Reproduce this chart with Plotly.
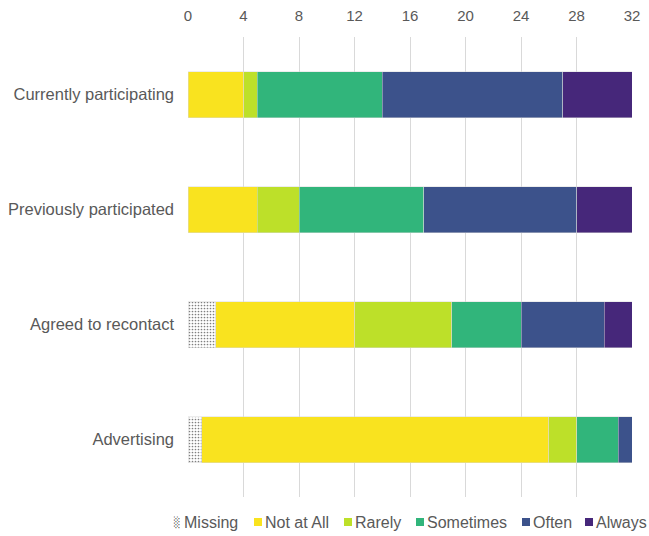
import plotly.graph_objects as go

categories = ["Currently participating", "Previously participated", "Agreed to recontact", "Advertising"]
missing = [0, 0, 2, 1]
not_at_all = [4, 5, 10, 25]
rarely = [1, 3, 7, 2]
sometimes = [9, 9, 5, 3]
often = [13, 11, 6, 1]
always = [5, 4, 2, 0]
x_ticks = [0, 4, 8, 12, 16, 20, 24, 28, 32]

series_names = ["Missing", "Not at All", "Rarely", "Sometimes", "Often", "Always"]
series_values = [missing, not_at_all, rarely, sometimes, often, always]
series_colors = ["#ffffff", "#f9e31f", "#bde029", "#31b57b", "#3c528b", "#46277a"]

# legend layout (screen px of the symbol's left edge)
legend_x = [173, 254, 344, 416, 522, 585]

# plot area on screen: x 188..632, y 37..497
PX_L, PX_W, PX_B, PX_H = 188, 444, 497, 460


def px_x(px):
    return (px - PX_L) / PX_W


def px_y(py):
    return (PX_B - py) / PX_H


font_color = "#595959"
font_family = "Liberation Sans"

fig = go.Figure()

# Stacked horizontal bars
for name, vals, color in zip(series_names, series_values, series_colors):
    if name == "Missing":
        marker = dict(
            color="#ffffff",
            pattern=dict(shape=".", fgcolor="#000000", bgcolor="#ffffff", size=3, solidity=0.25),
            line=dict(color="#d9d9d9", width=0.5),
        )
    else:
        marker = dict(color=color, line=dict(color="rgba(217,217,217,0.8)", width=0.6))
    fig.add_trace(
        go.Bar(
            y=categories,
            x=vals,
            name=name,
            orientation="h",
            marker=marker,
            width=0.4,
            showlegend=False,
        )
    )

# Legend drawn by hand so the spacing stays tight
ly = 522
for name, color, lx in zip(series_names, series_colors, legend_x):
    if name == "Missing":
        fig.add_annotation(
            x=px_x(lx - 1), y=px_y(ly), xref="paper", yref="paper",
            text="░", showarrow=False, xanchor="left", yanchor="middle",
            font=dict(family="DejaVu Sans Mono", size=10, color="#222222"),
        )
    else:
        fig.add_shape(
            type="rect", xref="paper", yref="paper",
            x0=px_x(lx), x1=px_x(lx + 8), y0=px_y(ly + 4), y1=px_y(ly - 4),
            fillcolor=color, line=dict(width=0),
        )
    fig.add_annotation(
        x=px_x(lx + 11), y=px_y(ly), xref="paper", yref="paper",
        text=name, showarrow=False, xanchor="left", yanchor="middle",
        font=dict(family=font_family, size=16, color=font_color),
        xshift=-2,
    )

fig.update_xaxes(
    side="top",
    range=[0, 32],
    tickvals=x_ticks,
    showgrid=True,
    gridcolor="#d9d9d9",
    gridwidth=1,
    zeroline=False,
    automargin=False,
    tickfont=dict(family=font_family, size=15, color=font_color),
    ticklabelstandoff=12,
)

fig.update_yaxes(
    categoryorder="array",
    categoryarray=categories,
    autorange="reversed",
    showgrid=False,
    automargin=False,
    tickfont=dict(family=font_family, size=16.5, color=font_color),
    ticklabelstandoff=13,
)

fig.update_layout(
    barmode="stack",
    autosize=False,
    width=649,
    height=536,
    margin=dict(l=188, r=17, t=37, b=39),
    plot_bgcolor="#ffffff",
    paper_bgcolor="#ffffff",
    showlegend=False,
)

# drop the default page margin so the figure fills the window exactly
fig.write_html(
    "out.html",
    config={"displayModeBar": False},
    post_script="document.body.style.margin='0';",
)
